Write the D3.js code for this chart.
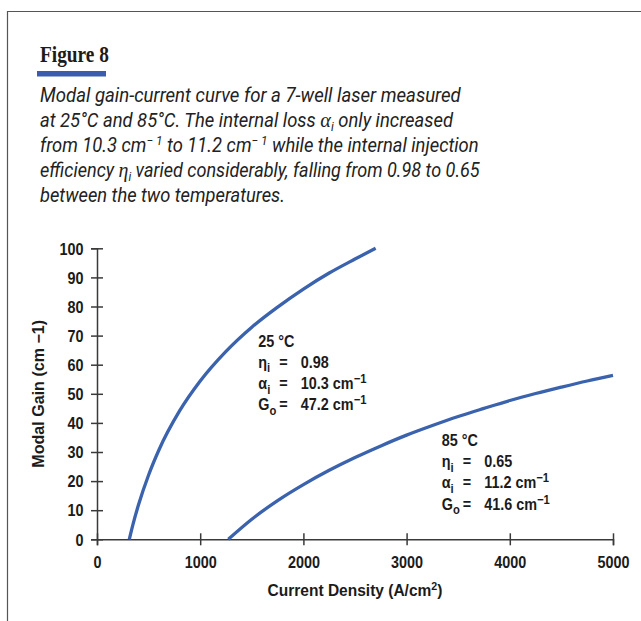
<!DOCTYPE html>
<html>
<head>
<meta charset="utf-8">
<script src="https://cdn.jsdelivr.net/npm/d3@7"></script>
<style>
  body { margin: 0; background: #fff; }
  svg { display: block; }
</style>
</head>
<body>
<svg id="chart" width="641" height="621"></svg>
<script>
// Axis ticks
const currentTicks = [0, 1000, 2000, 3000, 4000, 5000];
const gainTicks = [0, 10, 20, 30, 40, 50, 60, 70, 80, 90, 100];

// Modal gain vs. current density, 25 °C
const current25 = [313, 350, 400, 500, 600, 800, 1000, 1250, 1500, 1750, 2000, 2250, 2500, 2700];
const gain25    = [0, 5.3, 11.6, 22.1, 30.7, 44.1, 54.4, 64.6, 72.9, 79.8, 86.0, 91.5, 96.3, 100];

// Modal gain vs. current density, 85 °C
const current85 = [1272, 1500, 1750, 2000, 2250, 2500, 2750, 3000, 3250, 3500, 3750, 4000, 4250, 4500, 4750, 5000];
const gain85    = [0, 6.9, 13.3, 18.8, 23.7, 28.1, 32.1, 35.8, 39.1, 42.2, 45.0, 47.7, 50.1, 52.3, 54.4, 56.3];

// Fitted parameters printed beside each curve
const temps  = ["25 °C", "85 °C"];
const etas   = ["0.98", "0.65"];
const alphas = ["10.3", "11.2"];
const gains0 = ["47.2", "41.6"];

const BLUE = "#3a62ad";
const INK = "#1b1b1b";
const SANS = "'Liberation Sans', Arial, sans-serif";
const SERIF = "'Liberation Serif', 'Times New Roman', serif";

const svg = d3.select("#chart");

// Frame
svg.append("path")
  .attr("d", "M7.5,621 V11.5 H641")
  .attr("fill", "none")
  .attr("stroke", "#555")
  .attr("stroke-width", 1.2);

// Builds a text element out of [string, kind] pieces (kind: "", "sub", "sup", "gr")
function rich(parent, segs, o) {
  const t = parent.append("text");
  let shift = 0;
  segs.forEach(([s, k]) => {
    const ts = t.append("tspan").text(s);
    const target = k === "sub" ? o.sub : k === "sup" ? -o.sup : 0;
    ts.attr("dy", target - shift);
    shift = target;
    if (k === "sub" || k === "sup") ts.attr("font-size", o.small);
    if (k === "gr" && o.greekFont) {
      ts.attr("font-family", o.greekFont).attr("font-size", o.greekSize);
    }
  });
  return t;
}

function fit(t, w) {
  const n = t.node().getComputedTextLength();
  return w / n;
}

// Heading
const head = svg.append("text")
  .attr("font-family", SERIF)
  .attr("font-weight", "bold")
  .attr("font-size", 22.5)
  .attr("fill", INK)
  .text("Figure 8");
head.attr("transform", `translate(40,62.3) scale(${fit(head, 69)},1)`);

svg.append("rect")
  .attr("x", 37).attr("y", 71)
  .attr("width", 69).attr("height", 5.5)
  .attr("fill", "#3a5ead");

// Caption
const captionLines = [
  [["Modal gain-current curve for a 7-well laser measured", ""]],
  [["at 25°C and 85°C. The internal loss ", ""], ["α", "gr"], ["i", "sub"], [" only increased", ""]],
  [["from 10.3 cm", ""], ["− 1", "sup"], [" to 11.2 cm", ""], ["− 1", "sup"], [" while the internal injection", ""]],
  [["efficiency ", ""], ["η", "gr"], ["i", "sub"], [" varied considerably, falling from 0.98 to 0.65", ""]],
  [["between the two temperatures.", ""]]
];
const captionWidths = [421, 413, 439, 440, 245];
const caption = svg.append("g")
  .attr("font-family", "Roboto, " + SANS)
  .attr("font-weight", 400)
  .attr("font-style", "italic")
  .attr("font-size", 20)
  .attr("fill", "#222");
captionLines.forEach((segs, i) => {
  const t = rich(caption, segs, { sub: 4, sup: 7, small: 13, greekFont: SERIF, greekSize: 22 });
  t.attr("transform", `translate(40,${101.7 + i * 25}) scale(${fit(t, captionWidths[i])},1)`);
});

// Plot
const x = d3.scaleLinear().domain([0, 5000]).range([97, 613]);
const y = d3.scaleLinear().domain([0, 100]).range([539.3, 248.3]);
const SQ = 0.9; // horizontal squeeze for the condensed bold labels

const xAxis = svg.append("g")
  .attr("transform", `translate(0,${y(0)})`)
  .call(d3.axisBottom(x).tickValues(currentTicks).tickFormat(d3.format("d"))
    .tickSizeOuter(0).tickSize(6).tickPadding(0));
const yAxis = svg.append("g")
  .attr("transform", `translate(${x(0)},0)`)
  .call(d3.axisLeft(y).tickValues(gainTicks).tickFormat(d3.format("d"))
    .tickSizeOuter(0).tickSize(6).tickPadding(0));

[xAxis, yAxis].forEach(a => {
  a.select(".domain").attr("stroke", "#3a3a3a").attr("stroke-width", 1.5);
  a.selectAll(".tick line").attr("stroke", "#3a3a3a").attr("stroke-width", 1.5);
  a.selectAll(".tick text")
    .attr("font-family", SANS)
    .attr("font-weight", "bold")
    .attr("font-size", 16)
    .attr("fill", INK);
});
xAxis.selectAll(".tick line").attr("y1", -6).attr("y2", 6);
xAxis.selectAll(".tick text")
  .attr("y", 0).attr("dy", null)
  .attr("transform", `translate(0,29) scale(${SQ},1)`);
yAxis.selectAll(".tick line").attr("x1", -6).attr("x2", 6);
yAxis.selectAll(".tick text")
  .attr("x", 0).attr("dy", "0.36em")
  .attr("transform", `translate(-13.5,0) scale(${SQ},1)`);

// Axis titles
const xTitle = rich(svg, [["Current Density (A/cm", ""], ["2", "sup"], [")", ""]], { sub: 0, sup: 6, small: 11 })
  .attr("font-family", SANS).attr("font-weight", "bold").attr("font-size", 16)
  .attr("fill", INK).attr("text-anchor", "middle");
xTitle.attr("transform", `translate(${(x(0) + x(5000)) / 2},595.5) scale(${fit(xTitle, 175)},1)`);

const yTitle = svg.append("text")
  .attr("font-family", SANS).attr("font-weight", "bold").attr("font-size", 16)
  .attr("fill", INK).attr("text-anchor", "middle")
  .text("Modal Gain (cm −1)");
yTitle.attr("transform", `translate(44,${(y(0) + y(100)) / 2}) rotate(-90) scale(${fit(yTitle, 148)},1)`);

// Curves
const line = d3.line()
  .x(d => x(d[0]))
  .y(d => y(d[1]))
  .curve(d3.curveMonotoneX);

[[current25, gain25], [current85, gain85]].forEach(([js, gs]) => {
  svg.append("path")
    .datum(js.map((j, i) => [j, gs[i]]))
    .attr("fill", "none")
    .attr("stroke", BLUE)
    .attr("stroke-width", 3.3)
    .attr("stroke-linecap", "butt")
    .attr("d", line);
});

// Curve annotations
const noteAnchors = [[258.3, 346.7], [441.7, 446]];
const sm = { sub: 4.5, sup: 6, small: 12.5 };
temps.forEach((temp, k) => {
  const [nx, ny] = noteAnchors[k];
  const g = svg.append("g")
    .attr("transform", `translate(${nx},${ny})`)
    .attr("font-family", SANS)
    .attr("font-weight", "bold")
    .attr("font-size", 16)
    .attr("fill", INK);
  const place = (t, tx, ty) => t.attr("transform", `translate(${tx},${ty}) scale(${SQ},1)`);
  place(g.append("text").text(temp), 0, 0);
  const rows = [
    [[["η", ""], ["i", "sub"]], [[etas[k], ""]]],
    [[["α", ""], ["i", "sub"]], [[alphas[k] + " cm", ""], ["−1", "sup"]]],
    [[["G", ""], ["o", "sub"]], [[gains0[k] + " cm", ""], ["−1", "sup"]]]
  ];
  rows.forEach(([sym, val], r) => {
    const ry = 21.2 * (r + 1);
    place(rich(g, sym, sm), 0, ry);
    place(g.append("text").text("="), 21, ry);
    place(rich(g, val, sm), 42.5, ry);
  });
});
</script>
</body>
</html>
